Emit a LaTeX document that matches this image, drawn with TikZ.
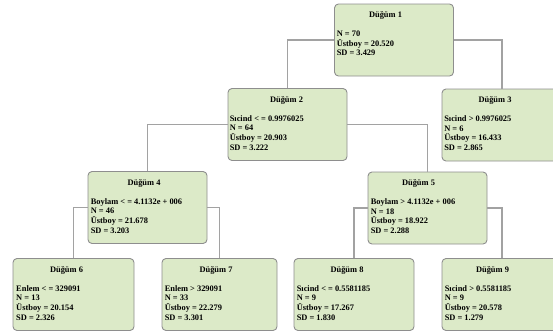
\documentclass[tikz,border=0pt]{standalone}
\usepackage{fontspec}
\setmainfont{Liberation Serif}
\usepackage{tikz}
\usetikzlibrary{positioning}
\definecolor{kutuyesil}{HTML}{DCEAC8}
\definecolor{kutucizgi}{HTML}{8E8E8E}
\definecolor{hatgri}{HTML}{A2A2A2}
\tikzset{kutu/.style={draw=kutucizgi,fill=kutuyesil,rounded corners=4pt,line width=0.9pt,minimum width=119pt,minimum height=72pt,inner sep=0pt},
baslik/.style={anchor=base,inner sep=0pt,font=\bfseries\fontsize{8.4}{9.7}\selectfont},
icerik/.style={anchor=north west,inner sep=0pt,align=left,font=\bfseries\fontsize{8.4}{9.7}\selectfont},
hat/.style={draw=hatgri,line width=1.4pt}}

\begin{document}
\begin{tikzpicture}[x=1pt,y=-1pt]
\useasboundingbox (0,0) rectangle (553,333);
% kutular
\node[kutu] (d1) at (394,40) {};
\node[kutu] (d2) at (287.5,124.5) {};
\node[kutu,minimum width=120pt] (d3) at (502,125) {};
\node[kutu] (d4) at (147.5,207.5) {};
\node[kutu] (d5) at (427.5,208) {};
\node[kutu,minimum width=121pt] (d6) at (73.5,294.5) {};
\node[kutu,minimum width=115pt] (d7) at (219.5,294.5) {};
\node[kutu,minimum width=120pt] (d8) at (354,294.5) {};
\node[kutu,minimum width=120pt] (d9) at (502,294.5) {};

% baglantilar
\draw[hat] (d1.west) -| (d2.north);
\draw[hat] (d1.east) -| (d3.north);
\draw[hat] (d2.west) -| (d4.north);
\draw[hat] (d2.east) -| (d5.north);
\draw[hat] (d4.west) -| (d6.north);
\draw[hat] (d4.east) -| (d7.north);
\draw[hat] (d5.west) -| (d8.north);
\draw[hat] (d5.east) -| (d9.north);

% basliklar
\node[baslik] (d1b) at ([xshift=-8.5pt,yshift=-14pt]d1.north) {Düğüm 1};
\node[baslik] (d2b) at ([xshift=-1pt,yshift=-14pt]d2.north) {Düğüm 2};
\node[baslik] (d3b) at ([xshift=-7pt,yshift=-14pt]d3.north) {Düğüm 3};
\node[baslik] (d4b) at ([xshift=-3.5pt,yshift=-14pt]d4.north) {Düğüm 4};
\node[baslik] (d5b) at ([xshift=-9pt,yshift=-14pt]d5.north) {Düğüm 5};
\node[baslik] (d6b) at ([xshift=-7pt,yshift=-14pt]d6.north) {Düğüm 6};
\node[baslik] (d7b) at ([xshift=-3.5pt,yshift=-14pt]d7.north) {Düğüm 7};
\node[baslik] (d8b) at ([xshift=-7pt,yshift=-14pt]d8.north) {Düğüm 8};
\node[baslik] (d9b) at ([xshift=-9.5pt,yshift=-14pt]d9.north) {Düğüm 9};

% icerikler
\node[icerik] (d1i) at ([xshift=2.5pt,yshift=-27pt]d1.north west) {N = 70\\Üstboy = 20.520\\SD = 3.429};
\node[icerik] (d2i) at ([xshift=2pt,yshift=-27pt]d2.north west) {Sıcind < = 0.9976025\\N = 64\\Üstboy = 20.903\\SD = 3.222};
\node[icerik] (d3i) at ([xshift=2.5pt,yshift=-27pt]d3.north west) {Sıcind > 0.9976025\\N = 6\\Üstboy = 16.433\\SD = 2.865};
\node[icerik] (d4i) at ([xshift=3pt,yshift=-27pt]d4.north west) {Boylam < = 4.1132e + 006\\N = 46\\Üstboy = 21.678\\SD = 3.203};
\node[icerik] (d5i) at ([xshift=3pt,yshift=-27pt]d5.north west) {Boylam > 4.1132e + 006\\N = 18\\Üstboy = 18.922\\SD = 2.288};
\node[icerik] (d6i) at ([xshift=3.5pt,yshift=-27pt]d6.north west) {Enlem < = 329091\\N = 13\\Üstboy = 20.154\\SD = 2.326};
\node[icerik] (d7i) at ([xshift=3pt,yshift=-27pt]d7.north west) {Enlem > 329091\\N = 33\\Üstboy = 22.279\\SD = 3.301};
\node[icerik] (d8i) at ([xshift=3pt,yshift=-27pt]d8.north west) {Sıcind < = 0.5581185\\N = 9\\Üstboy = 17.267\\SD = 1.830};
\node[icerik] (d9i) at ([xshift=3pt,yshift=-27pt]d9.north west) {Sıcind > 0.5581185\\N = 9\\Üstboy = 20.578\\SD = 1.279};
\end{tikzpicture}
\end{document}
